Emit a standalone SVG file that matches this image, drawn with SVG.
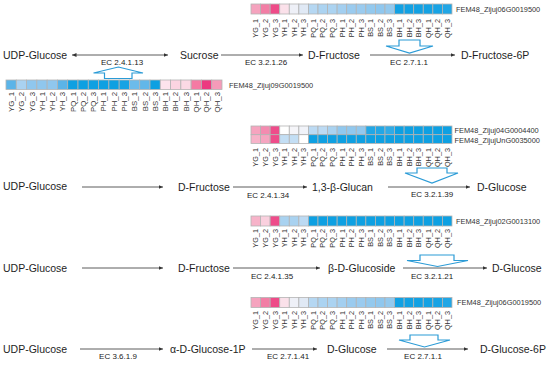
<svg xmlns="http://www.w3.org/2000/svg" xmlns:xlink="http://www.w3.org/1999/xlink" width="550" height="366" viewBox="0 0 550 366">
<style>
.n{font-family:"Liberation Sans",Arial,sans-serif;font-size:10.5px;fill:#1e1e1e}
.ec{font-family:"Liberation Sans",Arial,sans-serif;font-size:8px;fill:#222;text-anchor:middle}
.g{font-family:"Liberation Sans",Arial,sans-serif;font-size:7.4px;fill:#333}
.cl{font-family:"Liberation Sans",Arial,sans-serif;font-size:7.3px;fill:#333;text-anchor:end}
.c{stroke:#b3b3b3;stroke-width:0.8}
.ln{stroke:#333;stroke-width:0.8;fill:none;marker-end:url(#ah)}
.hb{fill:#fff;stroke:#2b9bd6;stroke-width:1.2;stroke-linejoin:miter}
</style>
<defs>
<marker id="ah" markerUnits="userSpaceOnUse" markerWidth="6" markerHeight="6" refX="4.5" refY="2" orient="auto"><path d="M0,0 L4.5,2 L0,4 Z" fill="#333"/></marker>
<marker id="ahs" markerUnits="userSpaceOnUse" markerWidth="6" markerHeight="6" refX="0" refY="2" orient="auto"><path d="M4.5,0 L0,2 L4.5,4 Z" fill="#333"/></marker>
<g id="cols">
<text class="cl" transform="translate(7.39,0) rotate(-90)">YG_1</text>
<text class="cl" transform="translate(16.96,0) rotate(-90)">YG_2</text>
<text class="cl" transform="translate(26.53,0) rotate(-90)">YG_3</text>
<text class="cl" transform="translate(36.10,0) rotate(-90)">YH_1</text>
<text class="cl" transform="translate(45.67,0) rotate(-90)">YH_2</text>
<text class="cl" transform="translate(55.24,0) rotate(-90)">YH_3</text>
<text class="cl" transform="translate(64.81,0) rotate(-90)">PQ_1</text>
<text class="cl" transform="translate(74.38,0) rotate(-90)">PQ_2</text>
<text class="cl" transform="translate(83.95,0) rotate(-90)">PQ_3</text>
<text class="cl" transform="translate(93.52,0) rotate(-90)">PH_1</text>
<text class="cl" transform="translate(103.09,0) rotate(-90)">PH_2</text>
<text class="cl" transform="translate(112.66,0) rotate(-90)">PH_3</text>
<text class="cl" transform="translate(122.23,0) rotate(-90)">BS_1</text>
<text class="cl" transform="translate(131.80,0) rotate(-90)">BS_2</text>
<text class="cl" transform="translate(141.37,0) rotate(-90)">BS_3</text>
<text class="cl" transform="translate(150.94,0) rotate(-90)">BH_1</text>
<text class="cl" transform="translate(160.51,0) rotate(-90)">BH_2</text>
<text class="cl" transform="translate(170.08,0) rotate(-90)">BH_3</text>
<text class="cl" transform="translate(179.65,0) rotate(-90)">QH_1</text>
<text class="cl" transform="translate(189.22,0) rotate(-90)">QH_2</text>
<text class="cl" transform="translate(198.79,0) rotate(-90)">QH_3</text>
</g>
<g id="row06">
<rect class="c" x="0" width="9.57" height="10" fill="#f5a3be"/>
<rect class="c" x="9.57" width="9.57" height="10" fill="#f27ea5"/>
<rect class="c" x="19.14" width="9.57" height="10" fill="#ee4b88"/>
<rect class="c" x="28.71" width="9.57" height="10" fill="#fbe1ea"/>
<rect class="c" x="38.28" width="9.57" height="10" fill="#eef0f7"/>
<rect class="c" x="47.85" width="9.57" height="10" fill="#e0e9f5"/>
<rect class="c" x="57.42" width="9.57" height="10" fill="#b5d7f2"/>
<rect class="c" x="66.99" width="9.57" height="10" fill="#abd3f1"/>
<rect class="c" x="76.56" width="9.57" height="10" fill="#abd3f1"/>
<rect class="c" x="86.13" width="9.57" height="10" fill="#a3cff0"/>
<rect class="c" x="95.70" width="9.57" height="10" fill="#9acbef"/>
<rect class="c" x="105.27" width="9.57" height="10" fill="#9acbef"/>
<rect class="c" x="114.84" width="9.57" height="10" fill="#93c9ee"/>
<rect class="c" x="124.41" width="9.57" height="10" fill="#8fc7ee"/>
<rect class="c" x="133.98" width="9.57" height="10" fill="#93c9ee"/>
<rect class="c" x="143.55" width="9.57" height="10" fill="#12a1e3"/>
<rect class="c" x="153.12" width="9.57" height="10" fill="#12a1e3"/>
<rect class="c" x="162.69" width="9.57" height="10" fill="#12a1e3"/>
<rect class="c" x="172.26" width="9.57" height="10" fill="#14a2e3"/>
<rect class="c" x="181.83" width="9.57" height="10" fill="#18a3e4"/>
<rect class="c" x="191.40" width="9.57" height="10" fill="#21a6e5"/>
</g>
</defs>

<g id="heatmap-06G-top">
<use xlink:href="#row06" href="#row06" x="251" y="4"/>
<use xlink:href="#cols" href="#cols" x="251" y="19"/>
<text class="g" x="456" y="11.6">FEM48_Zijuj06G0019500</text>
</g>

<g id="heatmap-09G">
<g transform="translate(6,80)">
<rect class="c" x="0" width="10.286" height="9.5" fill="#5bb4e8"/>
<rect class="c" x="10.286" width="10.286" height="9.5" fill="#a9d2f1"/>
<rect class="c" x="20.571" width="10.286" height="9.5" fill="#8fc7ee"/>
<rect class="c" x="30.857" width="10.286" height="9.5" fill="#8fc7ee"/>
<rect class="c" x="41.143" width="10.286" height="9.5" fill="#8fc7ee"/>
<rect class="c" x="51.429" width="10.286" height="9.5" fill="#5bb4e8"/>
<rect class="c" x="61.714" width="10.286" height="9.5" fill="#0ea0e2"/>
<rect class="c" x="72" width="10.286" height="9.5" fill="#0ea0e2"/>
<rect class="c" x="82.286" width="10.286" height="9.5" fill="#0ea0e2"/>
<rect class="c" x="92.571" width="10.286" height="9.5" fill="#0ea0e2"/>
<rect class="c" x="102.857" width="10.286" height="9.5" fill="#0ea0e2"/>
<rect class="c" x="113.143" width="10.286" height="9.5" fill="#16a3e4"/>
<rect class="c" x="123.429" width="10.286" height="9.5" fill="#6cbbea"/>
<rect class="c" x="133.714" width="10.286" height="9.5" fill="#62b7e9"/>
<rect class="c" x="144" width="10.286" height="9.5" fill="#0ea0e2"/>
<rect class="c" x="154.286" width="10.286" height="9.5" fill="#fde3ec"/>
<rect class="c" x="164.571" width="10.286" height="9.5" fill="#fbd4e1"/>
<rect class="c" x="174.857" width="10.286" height="9.5" fill="#fbd9e5"/>
<rect class="c" x="185.143" width="10.286" height="9.5" fill="#f47aa3"/>
<rect class="c" x="195.429" width="10.286" height="9.5" fill="#ec3a80"/>
<rect class="c" x="205.714" width="10.286" height="9.5" fill="#f59bb9"/>
</g>
<use xlink:href="#cols" href="#cols" transform="translate(6,92) scale(1.0746)"/>
<text class="g" x="229" y="87.6">FEM48_Zijuj09G0019500</text>
</g>

<g id="heatmap-04G-UnG">
<g transform="translate(251,126)">
<rect class="c" x="0" width="9.57" height="8.7" fill="#f6a4bf"/>
<rect class="c" x="9.57" width="9.57" height="8.7" fill="#f38bb0"/>
<rect class="c" x="19.14" width="9.57" height="8.7" fill="#ee4c8a"/>
<rect class="c" x="28.71" width="9.57" height="8.7" fill="#ffffff"/>
<rect class="c" x="38.28" width="9.57" height="8.7" fill="#f5f5f9"/>
<rect class="c" x="47.85" width="9.57" height="8.7" fill="#f1f3f9"/>
<rect class="c" x="57.42" width="9.57" height="8.7" fill="#bcdaf3"/>
<rect class="c" x="66.99" width="9.57" height="8.7" fill="#bcdaf3"/>
<rect class="c" x="76.56" width="9.57" height="8.7" fill="#a9d2f0"/>
<rect class="c" x="86.13" width="9.57" height="8.7" fill="#91c8ee"/>
<rect class="c" x="95.70" width="9.57" height="8.7" fill="#91c8ee"/>
<rect class="c" x="105.27" width="9.57" height="8.7" fill="#91c8ee"/>
<rect class="c" x="114.84" width="9.57" height="8.7" fill="#23a7e5"/>
<rect class="c" x="124.41" width="9.57" height="8.7" fill="#23a7e5"/>
<rect class="c" x="133.98" width="9.57" height="8.7" fill="#30abe6"/>
<rect class="c" x="143.55" width="9.57" height="8.7" fill="#0ea0e2"/>
<rect class="c" x="153.12" width="9.57" height="8.7" fill="#0ea0e2"/>
<rect class="c" x="162.69" width="9.57" height="8.7" fill="#0ea0e2"/>
<rect class="c" x="172.26" width="9.57" height="8.7" fill="#0ea0e2"/>
<rect class="c" x="181.83" width="9.57" height="8.7" fill="#0ea0e2"/>
<rect class="c" x="191.40" width="9.57" height="8.7" fill="#0ea0e2"/>
<rect class="c" x="0" y="8.7" width="9.57" height="8.7" fill="#f7b3c9"/>
<rect class="c" x="9.57" y="8.7" width="9.57" height="8.7" fill="#f5a5c0"/>
<rect class="c" x="19.14" y="8.7" width="9.57" height="8.7" fill="#ee4c8a"/>
<rect class="c" x="28.71" y="8.7" width="9.57" height="8.7" fill="#c3def4"/>
<rect class="c" x="38.28" y="8.7" width="9.57" height="8.7" fill="#c3def4"/>
<rect class="c" x="47.85" y="8.7" width="9.57" height="8.7" fill="#ffffff"/>
<rect class="c" x="57.42" y="8.7" width="9.57" height="8.7" fill="#0ea0e2"/>
<rect class="c" x="66.99" y="8.7" width="9.57" height="8.7" fill="#0ea0e2"/>
<rect class="c" x="76.56" y="8.7" width="9.57" height="8.7" fill="#0ea0e2"/>
<rect class="c" x="86.13" y="8.7" width="9.57" height="8.7" fill="#0ea0e2"/>
<rect class="c" x="95.70" y="8.7" width="9.57" height="8.7" fill="#0ea0e2"/>
<rect class="c" x="105.27" y="8.7" width="9.57" height="8.7" fill="#0ea0e2"/>
<rect class="c" x="114.84" y="8.7" width="9.57" height="8.7" fill="#0ea0e2"/>
<rect class="c" x="124.41" y="8.7" width="9.57" height="8.7" fill="#0ea0e2"/>
<rect class="c" x="133.98" y="8.7" width="9.57" height="8.7" fill="#0ea0e2"/>
<rect class="c" x="143.55" y="8.7" width="9.57" height="8.7" fill="#0ea0e2"/>
<rect class="c" x="153.12" y="8.7" width="9.57" height="8.7" fill="#0ea0e2"/>
<rect class="c" x="162.69" y="8.7" width="9.57" height="8.7" fill="#0ea0e2"/>
<rect class="c" x="172.26" y="8.7" width="9.57" height="8.7" fill="#0ea0e2"/>
<rect class="c" x="181.83" y="8.7" width="9.57" height="8.7" fill="#0ea0e2"/>
<rect class="c" x="191.40" y="8.7" width="9.57" height="8.7" fill="#0ea0e2"/>
</g>
<use xlink:href="#cols" href="#cols" x="251" y="148"/>
<text class="g" x="454.5" y="133.4">FEM48_Zijuj04G0004400</text>
<text class="g" x="454.5" y="142.6">FEM48_ZijujUnG0035000</text>
</g>

<g id="heatmap-02G">
<g transform="translate(251,216)">
<rect class="c" x="0" width="9.57" height="10" fill="#f7b3c9"/>
<rect class="c" x="9.57" width="9.57" height="10" fill="#fad0de"/>
<rect class="c" x="19.14" width="9.57" height="10" fill="#ee4c8a"/>
<rect class="c" x="28.71" width="9.57" height="10" fill="#a9d2f0"/>
<rect class="c" x="38.28" width="9.57" height="10" fill="#a9d2f0"/>
<rect class="c" x="47.85" width="9.57" height="10" fill="#bcdaf3"/>
<rect class="c" x="57.42" width="9.57" height="10" fill="#0ea0e2"/>
<rect class="c" x="66.99" width="9.57" height="10" fill="#0ea0e2"/>
<rect class="c" x="76.56" width="9.57" height="10" fill="#0ea0e2"/>
<rect class="c" x="86.13" width="9.57" height="10" fill="#0ea0e2"/>
<rect class="c" x="95.70" width="9.57" height="10" fill="#0ea0e2"/>
<rect class="c" x="105.27" width="9.57" height="10" fill="#0ea0e2"/>
<rect class="c" x="114.84" width="9.57" height="10" fill="#0ea0e2"/>
<rect class="c" x="124.41" width="9.57" height="10" fill="#0ea0e2"/>
<rect class="c" x="133.98" width="9.57" height="10" fill="#0ea0e2"/>
<rect class="c" x="143.55" width="9.57" height="10" fill="#0ea0e2"/>
<rect class="c" x="153.12" width="9.57" height="10" fill="#0ea0e2"/>
<rect class="c" x="162.69" width="9.57" height="10" fill="#0ea0e2"/>
<rect class="c" x="172.26" width="9.57" height="10" fill="#0ea0e2"/>
<rect class="c" x="181.83" width="9.57" height="10" fill="#0ea0e2"/>
<rect class="c" x="191.40" width="9.57" height="10" fill="#0ea0e2"/>
</g>
<use xlink:href="#cols" href="#cols" x="251" y="229"/>
<text class="g" x="456" y="223.6">FEM48_Zijuj02G0013100</text>
</g>

<g id="heatmap-06G-bottom">
<use xlink:href="#row06" href="#row06" x="251" y="297.5"/>
<use xlink:href="#cols" href="#cols" x="251" y="311"/>
<text class="g" x="457" y="305">FEM48_Zijuj06G0019500</text>
</g>

<!-- nodes -->
<g id="r1-udpglc"><text class="n" x="3" y="58.8">UDP-Glucose</text></g>
<g id="r1-sucrose"><text class="n" x="180" y="58.8">Sucrose</text></g>
<g id="r1-dfru"><text class="n" x="308" y="58.8">D-Fructose</text></g>
<g id="r1-dfru6p"><text class="n" x="461" y="58.8">D-Fructose-6P</text></g>

<g id="r2-udpglc"><text class="n" x="3" y="190">UDP-Glucose</text></g>
<g id="r2-dfru"><text class="n" x="178" y="190.5">D-Fructose</text></g>
<g id="r2-glucan"><text class="n" x="312" y="190.8">1,3-β-Glucan</text></g>
<g id="r2-dglc"><text class="n" x="477" y="190.8">D-Glucose</text></g>

<g id="r3-udpglc"><text class="n" x="3" y="271.5">UDP-Glucose</text></g>
<g id="r3-dfru"><text class="n" x="178" y="271.5">D-Fructose</text></g>
<g id="r3-glucoside"><text class="n" x="328" y="271.5">β-D-Glucoside</text></g>
<g id="r3-dglc"><text class="n" x="492" y="271.5">D-Glucose</text></g>

<g id="r4-udpglc"><text class="n" x="3" y="352.8">UDP-Glucose</text></g>
<g id="r4-glc1p"><text class="n" x="170" y="352.8">α-D-Glucose-1P</text></g>
<g id="r4-dglc"><text class="n" x="327" y="352.8">D-Glucose</text></g>
<g id="r4-dglc6p"><text class="n" x="480" y="352.8">D-Glucose-6P</text></g>

<!-- connectors -->
<g id="connectors">
<line class="ln" x1="72" y1="55" x2="168" y2="55" marker-start="url(#ahs)"/>
<line class="ln" x1="221" y1="55" x2="303" y2="55"/>
<line class="ln" x1="370" y1="55" x2="455" y2="55"/>
<line class="ln" x1="82" y1="187" x2="163" y2="187"/>
<line class="ln" x1="233" y1="187" x2="307" y2="187"/>
<line class="ln" x1="388" y1="187" x2="470" y2="187"/>
<line class="ln" x1="82" y1="268" x2="163" y2="268"/>
<line class="ln" x1="233" y1="268" x2="320" y2="268"/>
<line class="ln" x1="403" y1="268" x2="487" y2="268"/>
<line class="ln" x1="80" y1="349" x2="163" y2="349"/>
<line class="ln" x1="252" y1="349" x2="317" y2="349"/>
<line class="ln" x1="387" y1="349" x2="468" y2="349"/>
<!-- regulation block arrows -->
<polygon class="hb" points="118.3,67 143,73 132,73 132,78.5 104.5,78.5 104.5,73 93.5,73"/>
<polygon class="hb" points="399,40 420,40 420,46 433,46 409.5,53 386,46 399,46"/>
<polygon class="hb" points="417,168 447,168 447,173 458,173 432,183 405,173 417,173"/>
<polygon class="hb" points="420,255 454,255 454,260.5 468,260.5 437.5,266.5 407,260.5 420,260.5"/>
<polygon class="hb" points="410,335 438,335 438,340 450,340 424.5,347 399,340 410,340"/>
</g>

<g id="ec-labels">
<text class="ec" x="122" y="65">EC 2.4.1.13</text>
<text class="ec" x="266" y="65">EC 3.2.1.26</text>
<text class="ec" x="409" y="65">EC 2.7.1.1</text>
<text class="ec" x="268" y="197.5">EC 2.4.1.34</text>
<text class="ec" x="432" y="197">EC 3.2.1.39</text>
<text class="ec" x="272" y="279">EC 2.4.1.35</text>
<text class="ec" x="432" y="279">EC 3.2.1.21</text>
<text class="ec" x="118" y="359">EC 3.6.1.9</text>
<text class="ec" x="288" y="359">EC 2.7.1.41</text>
<text class="ec" x="423" y="359">EC 2.7.1.1</text>
</g>
</svg>
